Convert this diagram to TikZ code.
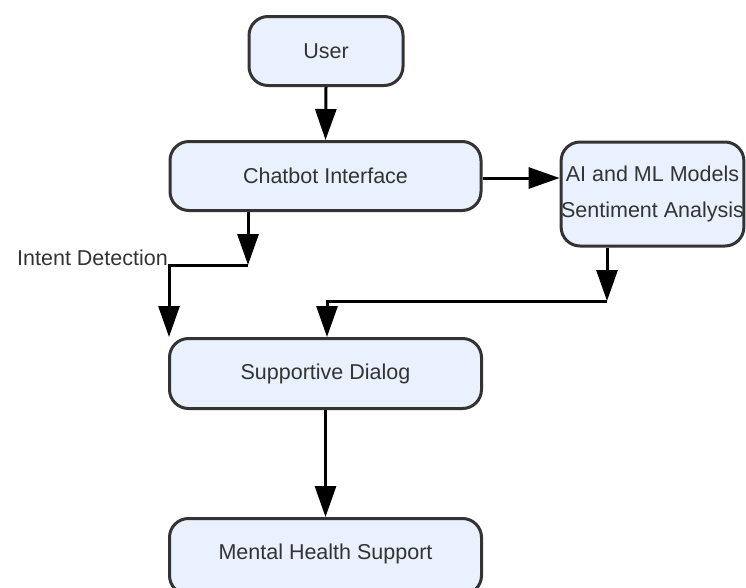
\documentclass[tikz,border=0pt]{standalone}
\usepackage{fontspec}
\setmainfont{Liberation Sans}
\usetikzlibrary{arrows.meta}
\definecolor{boxfill}{HTML}{E8F1FD}
\definecolor{boxline}{HTML}{333333}
\definecolor{txt}{HTML}{333333}
\begin{document}
\begin{tikzpicture}[x=1pt,y=-1pt,
  flowbox/.style={draw=boxline, fill=boxfill, line width=3pt, rounded corners=19pt,
    inner sep=0pt, text=txt, font=\fontsize{21.5}{36}\selectfont, align=center},
  conn/.style={draw=black, line width=3pt},
  tip/.style={-{Triangle[length=31pt,width=21pt]}}]
\useasboundingbox (0,0) rectangle (746,587);
\begin{scope}
\clip (0,0) rectangle (746,587);
\node[flowbox, minimum width=154pt, minimum height=69pt] (user) at (326,51) {User};
\node[flowbox, minimum width=311pt, minimum height=69pt] (chat) at (325.5,176) {Chatbot Interface};
\node[flowbox, minimum width=182pt, minimum height=104pt] (ai) at (652.5,194) {AI and ML Models\\Sentiment Analysis};
\node[flowbox, minimum width=312pt, minimum height=70pt] (sup) at (325.5,373.5) {Supportive Dialog};
\node[flowbox, minimum width=312pt, minimum height=76pt, text depth=0pt] (mhs) at (325.5,556.5) {};
\node[inner sep=0pt, text=txt, font=\fontsize{21.5}{36}\selectfont] (mhst) at (325.5,553.5) {Mental Health Support};
\end{scope}
\coordinate (j1) at (248,265);
\coordinate (j2) at (169,265);
\coordinate (e1) at (169,337);
\coordinate (j3) at (607,301);
\coordinate (j4) at (327,301);
\coordinate (e2) at (327,337);
\node[anchor=base east, inner sep=0pt, text=txt, font=\fontsize{21.5}{26}\selectfont] (intent) at (168,265) {Intent Detection};
\draw[conn, tip] (user.south) -- (chat.north);
\draw[conn, tip] (chat.east |- 0,178) -- (ai.west |- 0,178);
\draw[conn, tip] (chat.south -| j1) -- (j1);
\draw[conn, tip] (j1) -- (j2) -- (e1);
\draw[conn, tip] (ai.south -| j3) -- (j3);
\draw[conn, tip] (j3) -- (j4) -- (e2);
\draw[conn, tip] (sup.south) -- (mhs.north);
\end{tikzpicture}
\end{document}
